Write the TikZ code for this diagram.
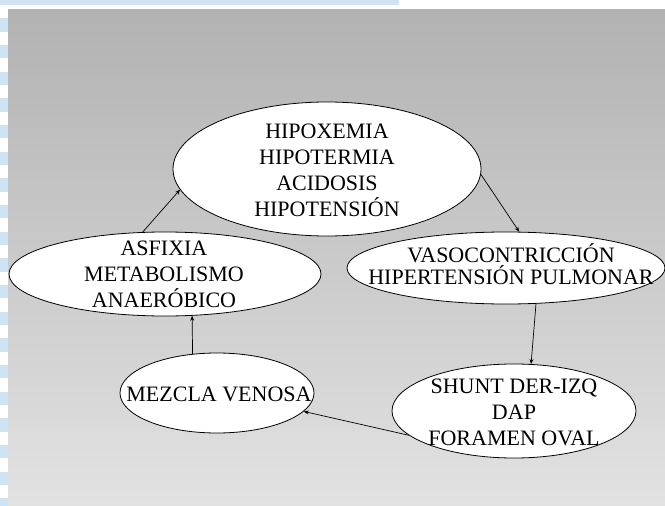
\documentclass[tikz,border=0pt]{standalone}
\usepackage{fontspec}
\setmainfont{Liberation Serif}
\usetikzlibrary{shapes.geometric,arrows.meta}
\definecolor{stripeblue}{RGB}{207,227,242}
\definecolor{bgtop}{RGB}{178,178,178}
\definecolor{bgbot}{RGB}{226,226,226}
\tikzset{
  bubble/.style={ellipse,draw=black,line width=0.8pt,fill=white,inner sep=0pt},
  label/.style={inner sep=0pt,align=center,font=\fontsize{22}{26}\selectfont},
  link/.style={line width=0.7pt,-{Stealth[length=5pt,width=4pt]}}
}
\begin{document}
\begin{tikzpicture}[x=1pt,y=-1pt]
\useasboundingbox (0,0) rectangle (665,506);
% decorative frame
\fill[white] (0,0) rectangle (665,506);
\fill[stripeblue] (0,0) rectangle (399,5);
\foreach \i in {0,...,18}{
  \fill[stripeblue] (0,{18.3+26.67*\i}) rectangle (8,{31.6+26.67*\i});
}
\shade[top color=bgtop,bottom color=bgbot] (8,9) rectangle (665,506);
% ellipses
\node[bubble,minimum width=308pt,minimum height=134pt] (T) at (327,169) {};
\node[bubble,minimum width=312pt,minimum height=84pt] (A) at (165,274) {};
\node[bubble,minimum width=318pt,minimum height=72pt] (V) at (506,268) {};
\node[bubble,minimum width=194pt,minimum height=80pt] (M) at (217,393) {};
\node[bubble,minimum width=244pt,minimum height=94pt] (S) at (514,411) {};
% texts
\node[label] (Tt) at (327,170.3) {HIPOXEMIA\\HIPOTERMIA\\ACIDOSIS\\HIPOTENSIÓN};
\node[label] (At) at (164,274.5) {ASFIXIA\\METABOLISMO\\ANAERÓBICO};
\node[label,font=\fontsize{22}{22}\selectfont] (Vt) at (511,264.5) {VASOCONTRICCIÓN\\HIPERTENSIÓN PULMONAR};
\node[label] (Mt) at (219,394.5) {MEZCLA VENOSA};
\node[label] (St) at (514,412.8) {SHUNT DER-IZQ\\DAP\\FORAMEN OVAL};
% connectors
\draw[link] (A.118) -- (T.188.3);
\draw[link] (T.358) -- (V.70.6);
\draw[link] (V.-50) -- (S.70.5);
\draw[link] (S.193.4) -- (M.348.3);
\draw[link] (M.122.9) -- (A.303.1);
\end{tikzpicture}
\end{document}
